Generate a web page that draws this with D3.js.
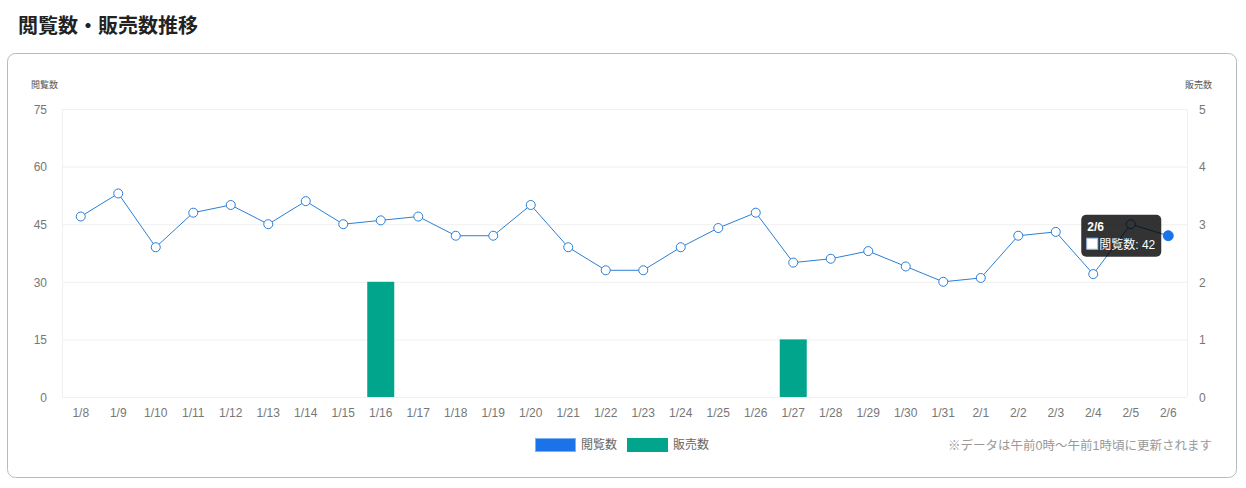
<!DOCTYPE html>
<html>
<head>
<meta charset="utf-8">
<script src="https://cdn.jsdelivr.net/npm/d3@7"></script>
<style>
  body { margin: 0; background: #fff; font-family: "Liberation Sans", "Noto Sans CJK JP", sans-serif; }
  svg { display: block; }
</style>
</head>
<body>
<svg id="chart" width="1246" height="488"></svg>
<script>
const dates = ["1/8","1/9","1/10","1/11","1/12","1/13","1/14","1/15","1/16","1/17",
  "1/18","1/19","1/20","1/21","1/22","1/23","1/24","1/25","1/26","1/27",
  "1/28","1/29","1/30","1/31","2/1","2/2","2/3","2/4","2/5","2/6"]
const views = [47,53,39,48,50,45,51,45,46,47,42,42,50,39,33,33,39,44,48,35,36,38,34,30,31,42,43,32,45,42]
const sales = [0,0,0,0,0,0,0,0,2,0,0,0,0,0,0,0,0,0,0,1,0,0,0,0,0,0,0,0,0,0]
const viewTicks = [0,15,30,45,60,75]
const salesTicks = [0,1,2,3,4,5]

const viewColor = "#2b7fd6"
const salesColor = "#00a58b"
const font = "'Liberation Sans', 'Noto Sans CJK JP', sans-serif"

var svg = d3.select('#chart')

// title
svg.append('text')
  .attr('x', 18).attr('y', 33)
  .attr('font-family', "'Noto Sans CJK JP', sans-serif").attr('font-size', 20).attr('font-weight', 700)
  .attr('fill', '#222')
  .text('閲覧数・販売数推移')

// card
svg.append('rect')
  .attr('x', 7.5).attr('y', 53.5).attr('width', 1229).attr('height', 424)
  .attr('rx', 8).attr('fill', '#fff')
  .attr('stroke', '#b4bcbc').attr('stroke-width', 1)

var margin = { left: 62, right: 1187, top: 109, bottom: 397 }

var x = d3.scaleBand().domain(dates).range([margin.left, margin.right]).padding(0)
var yL = d3.scaleLinear().domain([0, 75]).range([margin.bottom, margin.top])
var yR = d3.scaleLinear().domain([0, 5]).range([margin.bottom, margin.top])

// grid
svg.append('g').selectAll('line').data(viewTicks).enter().append('line')
  .attr('x1', margin.left).attr('x2', margin.right)
  .attr('y1', d => yL(d) + 0.5).attr('y2', d => yL(d) + 0.5)
  .attr('stroke', '#f0f0f0')
svg.append('line')
  .attr('x1', margin.left + 0.5).attr('x2', margin.left + 0.5)
  .attr('y1', margin.top).attr('y2', margin.bottom)
  .attr('stroke', '#f0f0f0')
svg.append('line')
  .attr('x1', margin.right + 0.5).attr('x2', margin.right + 0.5)
  .attr('y1', margin.top).attr('y2', margin.bottom)
  .attr('stroke', '#f0f0f0')

// axes
var leftAxis = svg.append('g')
  .attr('transform', 'translate(' + (margin.left - 12) + ',0)')
  .call(d3.axisLeft(yL).tickValues(viewTicks).tickSize(0))
var rightAxis = svg.append('g')
  .attr('transform', 'translate(' + (margin.right + 12) + ',0)')
  .call(d3.axisRight(yR).tickValues(salesTicks).tickFormat(d3.format('d')).tickSize(0))
var bottomAxis = svg.append('g')
  .attr('transform', 'translate(0,' + (margin.bottom + 12) + ')')
  .call(d3.axisBottom(x).tickSize(0))

;[leftAxis, rightAxis, bottomAxis].forEach(g => {
  g.select('.domain').remove()
  g.selectAll('text')
    .attr('font-family', font).attr('font-size', 12).attr('fill', '#777')
})
leftAxis.selectAll('text').attr('dy', '0.35em')
rightAxis.selectAll('text').attr('dy', '0.35em').attr('x', 0)
bottomAxis.selectAll('text').attr('dy', '0.7em').attr('y', 0)

// axis titles
svg.append('text')
  .attr('x', 31).attr('y', 88)
  .attr('font-family', font).attr('font-size', 9).attr('fill', '#555')
  .text('閲覧数')
svg.append('text')
  .attr('x', 1212).attr('y', 88).attr('text-anchor', 'end')
  .attr('font-family', font).attr('font-size', 9).attr('fill', '#555')
  .text('販売数')

// bars
var barW = 27
svg.append('g').selectAll('rect')
  .data(sales.map((v, i) => ({ d: dates[i], v: v })).filter(o => o.v > 0))
  .enter().append('rect')
  .attr('x', o => x(o.d) + (x.bandwidth() - barW) / 2)
  .attr('y', o => yR(o.v))
  .attr('width', barW)
  .attr('height', o => yR(0) - yR(o.v))
  .attr('fill', salesColor)

// line
var cx = d => x(d) + x.bandwidth() / 2
var line = d3.line().x((v, i) => cx(dates[i])).y(v => yL(v))
svg.append('path')
  .datum(views)
  .attr('d', line)
  .attr('fill', 'none')
  .attr('stroke', viewColor)
  .attr('stroke-width', 1)

var last = views.length - 1
svg.append('g').selectAll('circle')
  .data(views).enter().append('circle')
  .attr('cx', (v, i) => cx(dates[i]))
  .attr('cy', v => yL(v))
  .attr('r', (v, i) => i === last ? 5 : 4.5)
  .attr('fill', (v, i) => i === last ? '#1a73e8' : '#fff')
  .attr('stroke', (v, i) => i === last ? '#1a73e8' : viewColor)
  .attr('stroke-width', 1)

// tooltip for last point
var tipX = cx(dates[last]) - 87
var tipY = yL(views[last]) - 21
var tip = svg.append('g').attr('transform', 'translate(' + tipX + ',' + tipY + ')')
tip.append('rect')
  .attr('width', 80).attr('height', 42).attr('rx', 5)
  .attr('fill', 'rgba(0,0,0,0.8)')
tip.append('text')
  .attr('x', 6).attr('y', 16)
  .attr('font-family', font).attr('font-size', 12).attr('font-weight', 700)
  .attr('fill', '#fff')
  .text(dates[last])
tip.append('rect')
  .attr('x', 5.5).attr('y', 23.5).attr('width', 11).attr('height', 11)
  .attr('fill', '#fff').attr('stroke', '#9cc3f5').attr('stroke-width', 1)
tip.append('text')
  .attr('x', 18).attr('y', 34)
  .attr('font-family', font).attr('font-size', 12)
  .attr('fill', '#fff')
  .text('閲覧数: ' + views[last])

// legend
var legend = [
  { name: '閲覧数', color: '#1a73e8', stroke: '#7fb2f0' },
  { name: '販売数', color: salesColor, stroke: salesColor }
]
var lg = svg.append('g').attr('transform', 'translate(535,438)')
legend.forEach((o, i) => {
  var g = lg.append('g').attr('transform', 'translate(' + (i * 92) + ',0)')
  g.append('rect').attr('x', 0.5).attr('y', 0.5).attr('width', 40).attr('height', 13)
    .attr('fill', o.color).attr('stroke', o.stroke)
  g.append('text').attr('x', 46).attr('y', 11)
    .attr('font-family', font).attr('font-size', 12).attr('fill', '#666')
    .text(o.name)
})

// note
svg.append('text')
  .attr('x', 1212).attr('y', 450).attr('text-anchor', 'end')
  .attr('font-family', font).attr('font-size', 12.5).attr('fill', '#999')
  .text('※データは午前0時～午前1時頃に更新されます')
</script>
</body>
</html>
